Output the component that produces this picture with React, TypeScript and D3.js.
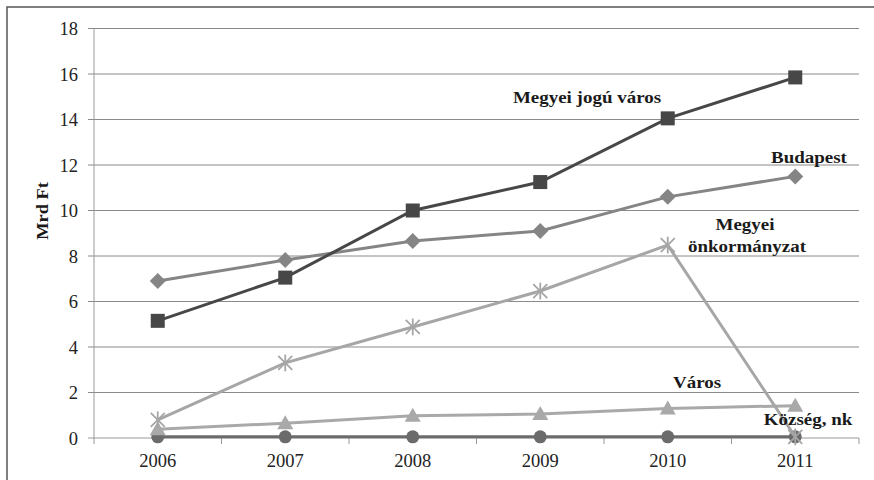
import * as d3 from 'd3';

const years = ['2006', '2007', '2008', '2009', '2010', '2011'];
const yTicks = [0, 2, 4, 6, 8, 10, 12, 14, 16, 18];

const megyeiJogu = [5.15, 7.05, 10.0, 11.25, 14.05, 15.85];
const budapest = [6.9, 7.82, 8.66, 9.1, 10.6, 11.5];
const megyeiOnk = [0.8, 3.3, 4.88, 6.46, 8.48, 0.05];
const varos = [0.38, 0.65, 0.98, 1.05, 1.3, 1.42];
const kozseg = [0.05, 0.05, 0.05, 0.05, 0.05, 0.05];

const W = 874;
const H = 480;
const margin = { left: 94, right: 15, top: 28.5, bottom: 42 };
const SX = 1.15; // the source picture is a bit wider than tall

const serif = '"Liberation Serif", "Times New Roman", serif';

type Series = { name: string; values: number[]; color: string; marker: string };

const series: Series[] = [
  { name: 'Község, nk', values: kozseg, color: '#6b6b6b', marker: 'circle' },
  { name: 'Város', values: varos, color: '#a9a9a9', marker: 'triangle' },
  { name: 'Budapest', values: budapest, color: '#858585', marker: 'diamond' },
  { name: 'Megyei jogú város', values: megyeiJogu, color: '#474747', marker: 'square' },
  { name: 'Megyei önkormányzat', values: megyeiOnk, color: '#a6a6a6', marker: 'star' },
];

function Marker({ type, x, y, color }: { type: string; x: number; y: number; color: string }) {
  if (type === 'square') return <rect x={x - 7} y={y - 7} width={14} height={14} fill={color} />;
  if (type === 'diamond')
    return <path d={`M${x},${y - 8}L${x + 8},${y}L${x},${y + 8}L${x - 8},${y}Z`} fill={color} />;
  if (type === 'triangle')
    return <path d={`M${x},${y - 8}L${x + 8},${y + 6}L${x - 8},${y + 6}Z`} fill={color} />;
  if (type === 'circle') return <circle cx={x} cy={y} r={6.5} fill={color} />;
  // star (asterisk)
  const r = 7;
  return (
    <g stroke={color} strokeWidth={1.8}>
      <line x1={x - r} y1={y - r} x2={x + r} y2={y + r} />
      <line x1={x - r} y1={y + r} x2={x + r} y2={y - r} />
      <line x1={x} y1={y - r * 1.2} x2={x} y2={y + r * 1.2} />
    </g>
  );
}

function Label({ x, y, text, bold = true, anchor = 'middle', size = 16.5, sx = SX }: any) {
  return (
    <text
      transform={`translate(${x},${y}) scale(${sx},1)`}
      textAnchor={anchor}
      fontFamily={serif}
      fontWeight={bold ? 'bold' : 'normal'}
      fontSize={size}
      fill={bold ? '#1a1a1a' : '#222'}
    >
      {text}
    </text>
  );
}

export default function App() {
  const x0 = margin.left;
  const x1 = W - margin.right;
  const yBottom = H - margin.bottom;

  const x = d3.scaleBand().domain(years).range([x0, x1]);
  const y = d3.scaleLinear().domain([0, 18]).range([yBottom, margin.top]);
  const cx = (yr: string) => (x(yr) ?? 0) + x.bandwidth() / 2;

  const line = d3
    .line<number>()
    .x((_, i) => cx(years[i]))
    .y((d) => y(d));

  const boundaries = years.map((yr) => x(yr) ?? 0).concat([x1]);

  return (
    <svg width={W} height={H} style={{ position: 'absolute', left: 0, top: 0, background: '#fff' }}>
      <rect x={7} y={7} width={W} height={H} fill="none" stroke="#555" strokeWidth={1.5} />

      {/* grid */}
      {yTicks.map((t) => (
        <g key={t}>
          <line x1={x0 - 6} x2={x1} y1={y(t)} y2={y(t)} stroke={t === 0 ? '#999' : '#8a8a8a'} strokeWidth={1} />
          <Label x={x0 - 16} y={y(t) + 6.5} text={String(t)} bold={false} anchor="end" size={18.5} sx={1} />
        </g>
      ))}
      <line x1={x0} x2={x0} y1={margin.top} y2={yBottom} stroke="#999" strokeWidth={1} />

      {/* x ticks */}
      {boundaries.map((b, i) => (
        <line key={i} x1={b} x2={b} y1={yBottom} y2={yBottom + 6} stroke="#999" />
      ))}
      {years.map((yr) => (
        <Label key={yr} x={cx(yr)} y={yBottom + 29} text={yr} bold={false} size={18.5} sx={1} />
      ))}

      <text
        transform={`translate(48,211) rotate(-90) scale(${SX},1)`}
        textAnchor="middle"
        fontFamily={serif}
        fontWeight="bold"
        fontSize={16}
        fill="#1a1a1a"
      >
        Mrd Ft
      </text>

      {/* series */}
      {series.map((s) => (
        <g key={s.name}>
          <path d={line(s.values) ?? ''} fill="none" stroke={s.color} strokeWidth={3} />
          {s.values.map((v, i) => (
            <Marker key={i} type={s.marker} x={cx(years[i])} y={y(v)} color={s.color} />
          ))}
        </g>
      ))}

      {/* labels */}
      <Label x={587} y={103} text="Megyei jogú város" />
      <Label x={809} y={163} text="Budapest" />
      <Label x={745} y={230} text="Megyei" />
      <Label x={747} y={252} text="önkormányzat" />
      <Label x={697} y={388} text="Város" />
      <Label x={808} y={425} text="Község, nk" />
    </svg>
  );
}
